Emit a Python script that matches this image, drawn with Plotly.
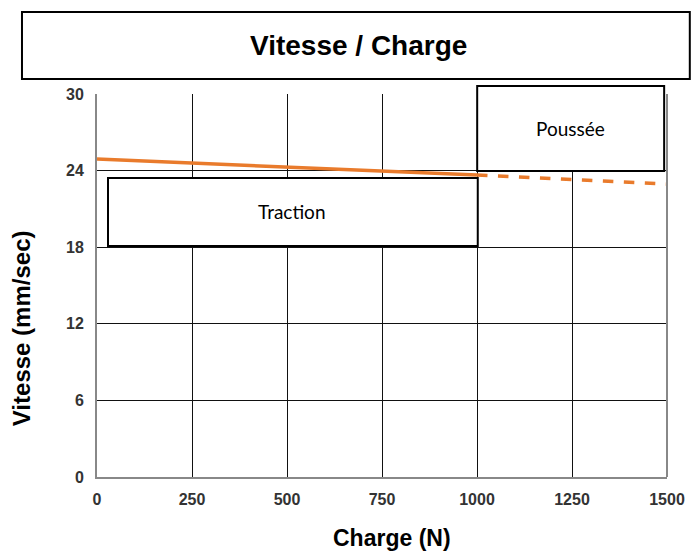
import plotly.graph_objects as go

charge_solid = [0, 250, 500, 750, 1000]
vitesse_solid = [24.9, 24.6, 24.3, 24.0, 23.65]
charge_dash = [1000, 1250, 1500]
vitesse_dash = [23.65, 23.3, 22.95]
x_ticks = [0, 250, 500, 750, 1000, 1250, 1500]
y_ticks = [0, 6, 12, 18, 24, 30]

ORANGE = "#E97B2C"
fig = go.Figure()
fig.add_trace(go.Scatter(x=charge_solid, y=vitesse_solid, mode="lines",
                         line=dict(color=ORANGE, width=3.5), showlegend=False))
fig.add_trace(go.Scatter(x=charge_dash, y=vitesse_dash, mode="lines",
                         line=dict(color=ORANGE, width=3.5, dash="dash"), showlegend=False))

narrow = "Liberation Sans Narrow, Arial Narrow, sans-serif"
tickfont = dict(family="Arial", size=16, color="#333", weight="bold")
fig.update_layout(
    width=694, height=558,
    margin=dict(l=97, r=27, t=94, b=81, autoexpand=False),
    paper_bgcolor="white", plot_bgcolor="white",
    xaxis=dict(range=[0, 1500], tickvals=x_ticks, showgrid=True, gridcolor="#111", gridwidth=1,
               showline=True, linecolor="#888", linewidth=2, zeroline=False, automargin=False,
               ticks="", tickfont=tickfont, ticklabelstandoff=7),
    yaxis=dict(range=[0, 30], tickvals=y_ticks, showgrid=True, gridcolor="#111", gridwidth=1,
               showline=True, linecolor="#888", linewidth=2, zeroline=False, automargin=False,
               ticks="", tickfont=tickfont, ticklabelstandoff=8),
)
# axis titles
fig.add_annotation(xref="paper", yref="paper", x=0.5175, y=-0.159, xanchor="center", yanchor="middle",
                   text="Charge (N)", showarrow=False,
                   font=dict(family=narrow, size=23, color="black", weight="bold"))
fig.add_annotation(xref="paper", yref="paper", x=-0.133, y=0.389, xanchor="center", yanchor="middle",
                   text="Vitesse (mm/sec)", showarrow=False, textangle=-90,
                   font=dict(family=narrow, size=24, color="black", weight="bold"))
# right border
fig.add_shape(type="line", xref="paper", yref="paper", x0=1, x1=1, y0=0, y1=1,
              line=dict(color="#888", width=2))
# title box
fig.add_shape(type="rect", xref="paper", yref="paper", x0=-0.1316, x1=1.040, y0=1.039, y1=1.214,
              line=dict(color="black", width=2), fillcolor="white")
fig.add_annotation(xref="paper", yref="paper", x=0.4596, y=1.126, xanchor="center", yanchor="middle",
                   text="Vitesse / Charge", showarrow=False,
                   font=dict(family=narrow, size=28, color="black", weight="bold"))
# Traction box
fig.add_shape(type="rect", xref="paper", yref="paper", x0=0.0193, x1=0.668, y0=0.603, y1=0.781,
              line=dict(color="black", width=2), fillcolor="white")
fig.add_annotation(xref="paper", yref="paper", x=0.342, y=0.692, xanchor="center", yanchor="middle",
                   text="Traction", showarrow=False,
                   font=dict(family="Lato, sans-serif", size=19, color="black"))
# Poussee box
fig.add_shape(type="rect", xref="paper", yref="paper", x0=0.667, x1=0.995, y0=0.799, y1=1.021,
              line=dict(color="black", width=2), fillcolor="white")
fig.add_annotation(xref="paper", yref="paper", x=0.83, y=0.91, xanchor="center", yanchor="middle",
                   text="Poussée", showarrow=False,
                   font=dict(family="Lato, sans-serif", size=19, color="black"))

fig.write_html("out.html", config={"displayModeBar": False},
               post_script="document.body.style.margin='0';document.body.style.padding='0';")
